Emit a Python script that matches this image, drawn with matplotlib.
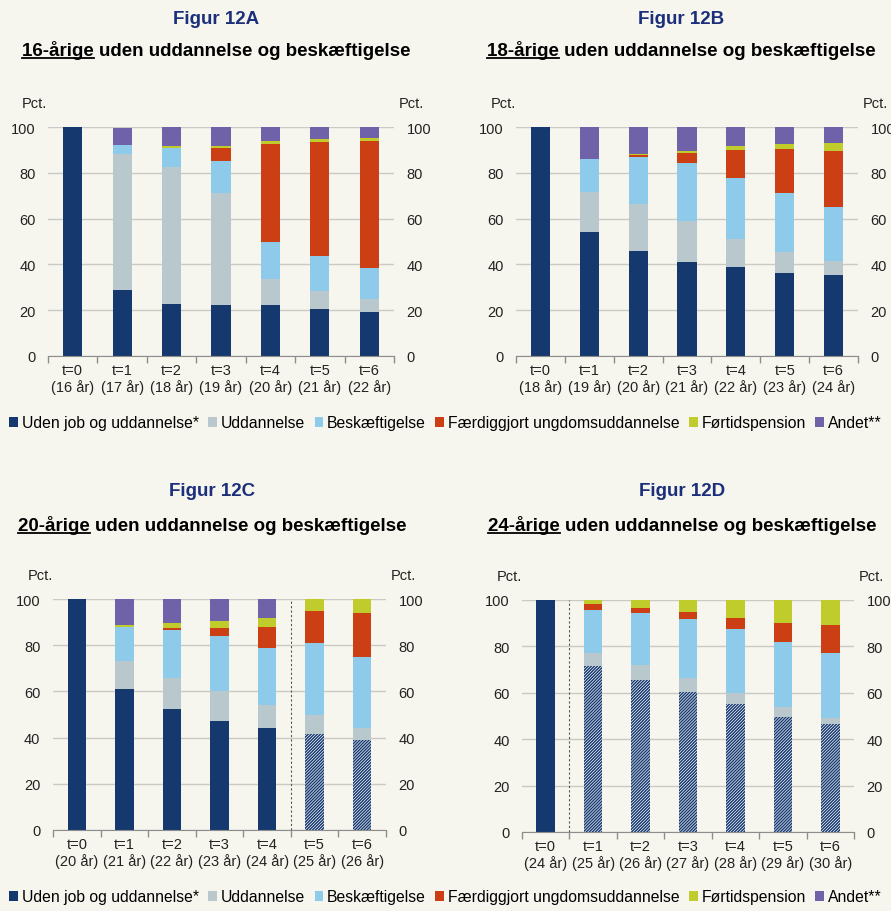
import numpy as np
import matplotlib
matplotlib.use("Agg")
from matplotlib import pyplot as plt
from matplotlib.patches import Patch
from matplotlib.lines import Line2D

plt.rcParams['font.family'] = ['Liberation Sans', 'DejaVu Sans']
plt.rcParams['hatch.linewidth'] = 1.05

# Categories / labels
series_names = ["Uden job og uddannelse*", "Uddannelse", "Beskæftigelse",
                "Færdiggjort ungdomsuddannelse", "Førtidspension", "Andet**"]
colors = ["#15396F", "#B9C8CC", "#8ECBEA", "#CC3F14", "#BFCC2B", "#6F62A8"]
ages_a = [16, 17, 18, 19, 20, 21, 22]
ages_b = [18, 19, 20, 21, 22, 23, 24]
ages_c = [20, 21, 22, 23, 24, 25, 26]
ages_d = [24, 25, 26, 27, 28, 29, 30]

# Panel A (16-årige), values per t=0..6
a_uden = [100, 28.7, 22.9, 22.1, 22.1, 20.4, 19.4]
a_udd = [0, 59.7, 59.6, 48.9, 11.7, 8.1, 5.3]
a_besk = [0, 3.6, 8.5, 14.2, 16.0, 15.2, 13.7]
a_faerdig = [0, 0, 0, 5.8, 42.9, 49.7, 55.5]
a_fortid = [0, 0, 0.7, 0.7, 1.2, 1.5, 1.4]
a_andet = [0, 7.5, 8.3, 8.3, 6.1, 5.1, 4.7]

# Panel B (18-årige)
b_uden = [100, 54.1, 45.9, 41.2, 38.9, 36.2, 35.2]
b_udd = [0, 17.4, 20.5, 17.9, 12.3, 9.4, 6.1]
b_besk = [0, 14.4, 20.6, 25.0, 26.5, 25.4, 23.6]
b_faerdig = [0, 0, 0.6, 4.7, 12.4, 19.5, 24.8]
b_fortid = [0, 0.3, 0.5, 0.9, 1.7, 2.2, 3.3]
b_andet = [0, 13.8, 11.9, 10.3, 8.2, 7.3, 7.0]

# Panel C (20-årige)
c_uden = [100, 61.2, 52.4, 47.2, 44.2, 41.6, 38.8]
c_udd = [0, 12.1, 13.5, 12.8, 9.9, 8.3, 5.5]
c_besk = [0, 14.6, 20.5, 24.0, 24.8, 30.9, 30.4]
c_faerdig = [0, 0, 1.0, 3.4, 8.8, 14.0, 19.1]
c_fortid = [0, 1.0, 2.1, 3.1, 4.1, 5.2, 6.2]
c_andet = [0, 11.1, 10.5, 9.5, 8.2, 0, 0]
c_hatched = [False, False, False, False, False, True, True]

# Panel D (24-årige)
d_uden = [100, 71.6, 65.5, 60.5, 55.2, 49.7, 46.4]
d_udd = [0, 5.7, 6.3, 5.9, 4.7, 4.0, 2.7]
d_besk = [0, 18.4, 22.6, 25.6, 27.6, 28.3, 28.1]
d_faerdig = [0, 2.7, 2.3, 2.7, 4.9, 8.2, 11.9]
d_fortid = [0, 1.6, 3.3, 5.3, 7.6, 9.8, 10.9]
d_andet = [0, 0, 0, 0, 0, 0, 0]
d_hatched = [False, True, True, True, True, True, True]

BG = "#F7F6EE"
NAVY_TITLE = "#1B2F7A"
GRID = "#C9C9C6"
AXIS = "#8C8C8C"

fig = plt.figure(figsize=(8.91, 9.12), dpi=100, facecolor=BG)


def draw_panel(rect, ages, data, hatched=None, sep=None):
    ax = fig.add_axes(rect)
    ax.set_facecolor(BG)
    x = np.arange(len(ages))
    bottom = np.zeros(len(ages))
    for k, vals in enumerate(data):
        vals = np.array(vals, dtype=float)
        for i in range(len(ages)):
            if vals[i] <= 0:
                continue
            if k == 0 and hatched is not None and hatched[i]:
                # projected share: hatched navy on white
                ax.bar(x[i], vals[i], 0.39, bottom=bottom[i], color="white",
                       edgecolor=colors[0], hatch="/" * 11, linewidth=0, zorder=3)
            else:
                ax.bar(x[i], vals[i], 0.39, bottom=bottom[i], color=colors[k],
                       linewidth=0, zorder=3)
        bottom += vals
    ax.set_xlim(-0.5, len(ages) - 0.5)
    ax.set_ylim(0, 100)
    ax.set_yticks(range(0, 101, 20))
    ax.grid(axis='y', color=GRID, linewidth=1.0, zorder=0)
    for s in ['top', 'left', 'right']:
        ax.spines[s].set_visible(False)
    ax.spines['bottom'].set_color(AXIS)
    ax.spines['bottom'].set_zorder(4)
    ax.tick_params(axis='y', length=0, labelsize=10.5, pad=9, labelright=True,
                   colors="#222222")
    ax.set_xticks(x)
    ax.set_xticklabels(["t=%d\n(%d år)" % (i, a) for i, a in enumerate(ages)],
                       fontsize=10.5, color="#222222", linespacing=1.15)
    ax.tick_params(axis='x', which='major', length=0, pad=5)
    ax.set_xticks(np.arange(-0.5, len(ages), 1.0), minor=True)
    ax.tick_params(axis='x', which='minor', length=5, color=AXIS, width=1)
    if sep is not None:
        ax.plot([sep, sep], [0, 100], color="#555555", linestyle=(0, (2, 2)),
                linewidth=0.8, zorder=2)
    ax.text(-0.075, 1.105, "Pct.", transform=ax.transAxes, fontsize=10.5,
            ha='left', va='center', color="#222222")
    ax.text(1.015, 1.105, "Pct.", transform=ax.transAxes, fontsize=10.5,
            ha='left', va='center', color="#222222")
    return ax


def titles(cx, y_fig, y_sub, figname, prefix, rest):
    fig.text(cx / 891, 1 - y_fig / 912, figname, ha='center', va='center',
             fontsize=13.5, fontweight='bold', color=NAVY_TITLE)
    full = prefix + rest
    t = fig.text(cx / 891, 1 - y_sub / 912, full, ha='center', va='baseline',
                 fontsize=13.5, fontweight='bold', color="black")
    r = fig.canvas.get_renderer()
    bb = t.get_window_extent(r)
    tmp = fig.text(0, 0, prefix, fontsize=13.5, fontweight='bold')
    w = tmp.get_window_extent(r).width
    tmp.remove()
    yline = (1 - y_sub / 912) - 3 / 912
    fig.add_artist(Line2D([bb.x0 / 891, (bb.x0 + w) / 891], [yline, yline],
                          color="black", linewidth=1.3))


draw_panel([48 / 891, 1 - 357 / 912, 346 / 891, 229 / 912], ages_a,
           [a_uden, a_udd, a_besk, a_faerdig, a_fortid, a_andet])
draw_panel([516 / 891, 1 - 357 / 912, 342 / 891, 229 / 912], ages_b,
           [b_uden, b_udd, b_besk, b_faerdig, b_fortid, b_andet])
draw_panel([53 / 891, 1 - 831 / 912, 333 / 891, 231 / 912], ages_c,
           [c_uden, c_udd, c_besk, c_faerdig, c_fortid, c_andet],
           hatched=c_hatched, sep=4.5)
draw_panel([522 / 891, 1 - 833 / 912, 332 / 891, 232 / 912], ages_d,
           [d_uden, d_udd, d_besk, d_faerdig, d_fortid, d_andet],
           hatched=d_hatched, sep=0.5)

titles(216, 19, 56, "Figur 12A", "16-årige", " uden uddannelse og beskæftigelse")
titles(681, 19, 56, "Figur 12B", "18-årige", " uden uddannelse og beskæftigelse")
titles(212, 492, 531, "Figur 12C", "20-årige", " uden uddannelse og beskæftigelse")
titles(682, 492, 531, "Figur 12D", "24-årige", " uden uddannelse og beskæftigelse")

handles = [Patch(facecolor=c, edgecolor='none') for c in colors]
for ly in [424, 898]:
    fig.legend(handles, series_names, loc='center', bbox_to_anchor=(0.5, 1 - ly / 912),
               ncol=6, frameon=False, fontsize=11.3, handlelength=0.55, handleheight=0.55,
               handletextpad=0.25, columnspacing=0.6, borderaxespad=0, borderpad=0)

plt.savefig("out.png", dpi=100, facecolor=BG)
